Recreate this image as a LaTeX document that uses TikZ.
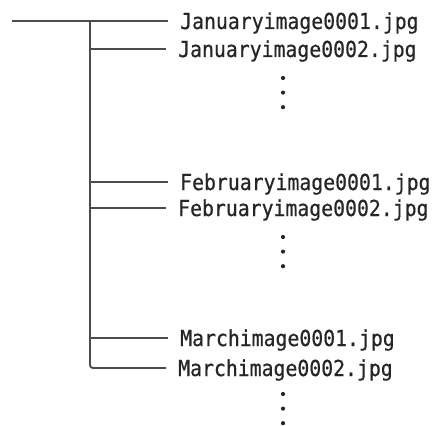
\documentclass[tikz,border=0pt]{standalone}
\usepackage{fontspec}
\newfontfamily\filefont[FakeStretch=0.9,FakeBold=0.6]{DejaVu Sans Mono}
\usepackage{tikz}
\usetikzlibrary{positioning}

\begin{document}
\begin{tikzpicture}[
    x=1pt, y=-1pt,
    file/.style={anchor=west, inner xsep=12pt, inner ysep=0pt, text height=16pt, text depth=0pt, text=black!85, font=\filefont\fontsize{22}{24}\selectfont},
    branch/.style={line width=1.9pt, draw=black!70},
    dot/.style={circle, fill=black!85, inner sep=0pt, minimum size=4.2pt}
]
    \useasboundingbox (0,0) rectangle (438,425);
    \coordinate (root) at (12,21);
    \coordinate (trunk) at (90,21);
    \node [file] (jan1) at (168,21) {Januaryimage0001.jpg};
    \node [file] (jan2) at (166,49) {Januaryimage0002.jpg};
    \node [file] (feb1) at (168,182) {Februaryimage0001.jpg};
    \node [file] (feb2) at (166,208) {Februaryimage0002.jpg};
    \node [file] (mar1) at (168,338) {Marchimage0001.jpg};
    \node [file] (mar2) at (166,368) {Marchimage0002.jpg};
    \node [dot] (jandot1) at (283,78) {};
    \node [dot, below=10pt of jandot1] (jandot2) {};
    \node [dot, below=10pt of jandot2] (jandot3) {};
    \node [dot] (febdot1) at (283,237) {};
    \node [dot, below=10pt of febdot1] (febdot2) {};
    \node [dot, below=10pt of febdot2] (febdot3) {};
    \node [dot] (mardot1) at (283,394) {};
    \node [dot, below=10pt of mardot1] (mardot2) {};
    \node [dot, below=10pt of mardot2] (mardot3) {};
    \draw [branch] (root) -- (jan1.west);
    \draw [branch, rounded corners=3pt] (trunk) |- (mar2.west);
    \draw [branch] (trunk |- jan2.west) -- (jan2.west);
    \draw [branch] (trunk |- feb1.west) -- (feb1.west);
    \draw [branch] (trunk |- feb2.west) -- (feb2.west);
    \draw [branch] (trunk |- mar1.west) -- (mar1.west);
\end{tikzpicture}
\end{document}
